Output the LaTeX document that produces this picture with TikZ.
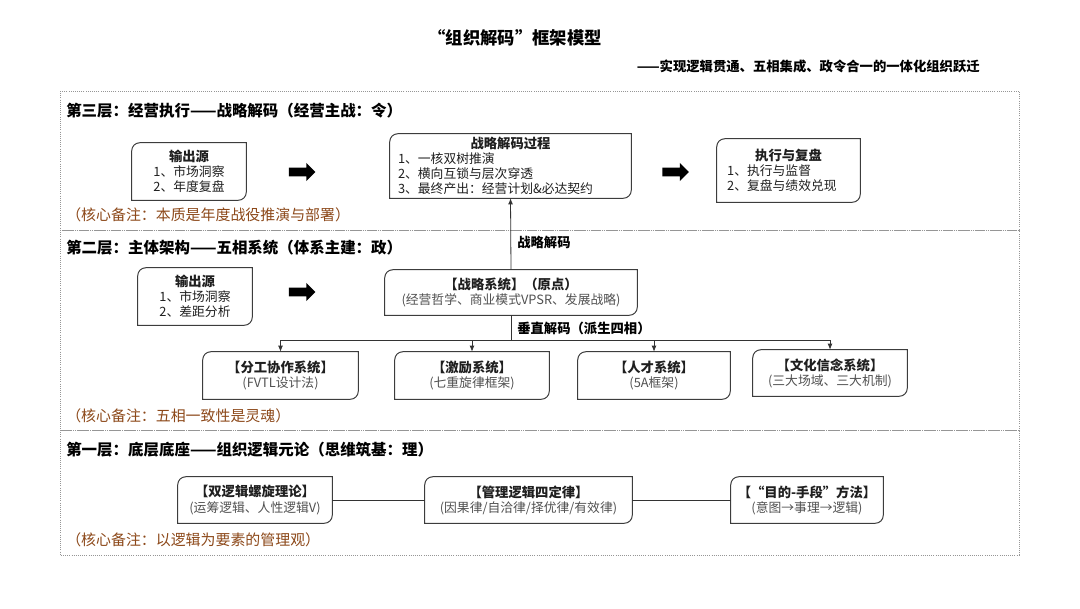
\documentclass[tikz,border=0pt]{standalone}
\usepackage{fontspec}
\setmainfont{Noto Sans CJK SC}
\usetikzlibrary{shapes.arrows,arrows.meta}
\definecolor{notebrown}{RGB}{140,72,25}
\definecolor{framegray}{RGB}{150,150,150}
\definecolor{boxline}{RGB}{60,60,60}
\definecolor{subgray}{RGB}{80,80,80}
\begin{document}
\begin{tikzpicture}[x=0.75pt,y=-0.75pt,
  diag/.style={inner sep=0pt, text=black!88,
    font=\fontsize{9.6}{11.3}\selectfont,
    append after command={\pgfextra{\draw[boxline, line width=0.75pt]
      (\tikzlastnode.south west) -- ([yshift=-6pt]\tikzlastnode.north west)
      arc[start angle=180,end angle=90,radius=6pt] -- (\tikzlastnode.north east)
      -- ([yshift=6pt]\tikzlastnode.south east)
      arc[start angle=0,end angle=-90,radius=6pt] -- cycle;}}},
  bigarrow/.style={single arrow, fill=black, draw=none, inner xsep=0pt, inner ysep=3pt,
    single arrow head extend=3.6pt, single arrow head indent=0pt, minimum height=20pt},
  layerframe/.style={draw=framegray, densely dotted, line width=0.6pt},
  heading/.style={anchor=west, inner sep=0pt, font=\bfseries\fontsize{11.6}{13}\selectfont},
  note/.style={anchor=west, inner sep=0pt, text=notebrown, font=\fontsize{11.2}{12}\selectfont},
  conn/.style={draw=black!80, line width=0.6pt},
  tip/.style={-{Latex[length=4.5pt,width=3.6pt]}},
  lab/.style={anchor=west, inner sep=0pt, font=\bfseries\fontsize{10}{11}\selectfont},
]
\useasboundingbox (0,0) rectangle (1080,608);

% title
\node[inner sep=0pt, font=\bfseries\fontsize{13}{15}\selectfont] (title) at (515,38) {“组织解码”框架模型};
\node[anchor=east, inner sep=0pt, font=\bfseries\fontsize{10}{12}\selectfont] (subtitle) at (980,66) {——实现逻辑贯通、五相集成、政令合一的一体化组织跃迁};

% layer frames
\draw[layerframe] (60,91) rectangle (1019,230);
\draw[layerframe] (60,230) rectangle (1019,430);
\draw[layerframe] (60,430) rectangle (1019,555);

% ===== Layer 3 =====
\node[heading] (h3) at (66,111) {第三层：经营执行——战略解码（经营主战：令）};
\node[diag, minimum width=85.5pt, minimum height=42.75pt, align=center] (src3) at (189,171.5)
  {{\bfseries\fontsize{10}{12}\selectfont 输出源}\\1、市场洞察\\2、年度复盘};
\node[bigarrow] (ar31) at (300,172) {};
\node[diag, minimum width=180.75pt, minimum height=48pt, text width=168.75pt, align=left] (proc) at (510.5,166)
  {\hfill{\bfseries\fontsize{10}{12}\selectfont 战略解码过程}\hfill\null\\1、一核双树推演\\2、横向互锁与层次穿透\\3、最终产出：经营计划\&必达契约};
\node[bigarrow] (ar32) at (673.5,172) {};
\node[diag, minimum width=107.25pt, minimum height=47.25pt, text width=92pt, align=left] (exec) at (788.5,170.5)
  {\hfill{\bfseries\fontsize{10}{12}\selectfont 执行与复盘}\hfill\null\\1、执行与监督\\2、复盘与绩效兑现};
\node[note] (n3) at (66,215) {（核心备注：本质是年度战役推演与部署）};

% ===== Layer 2 =====
\node[heading] (h2) at (66,248) {第二层：主体架构——五相系统（体系主建：政）};
\node[diag, minimum width=85.5pt, minimum height=42.75pt, align=center] (src2) at (195,296.5)
  {{\bfseries\fontsize{10}{12}\selectfont 输出源}\\1、市场洞察\\2、差距分析};
\node[bigarrow] (ar21) at (300,292) {};
\node[diag, minimum width=189pt, minimum height=33.75pt, align=center] (sys) at (511,292.5)
  {{\bfseries\fontsize{10}{12}\selectfont 【战略系统】（原点）}\\{\color{subgray}(经营哲学、商业模式VPSR、发展战略)}};

\node[diag, minimum width=116.25pt, minimum height=35.25pt, align=center] (b1) at (280.5,375.5)
  {{\bfseries\fontsize{10}{12}\selectfont 【分工协作系统】}\\{\color{subgray}(FVTL设计法)}};
\node[diag, minimum width=115.5pt, minimum height=35.25pt, align=center] (b2) at (472,375.5)
  {{\bfseries\fontsize{10}{12}\selectfont 【激励系统】}\\{\color{subgray}(七重旋律框架)}};
\node[diag, minimum width=114pt, minimum height=35.25pt, align=center] (b3) at (654,375.5)
  {{\bfseries\fontsize{10}{12}\selectfont 【人才系统】}\\{\color{subgray}(5A框架)}};
\node[diag, minimum width=115.5pt, minimum height=34.5pt, align=center] (b4) at (830,373)
  {{\bfseries\fontsize{10}{12}\selectfont 【文化信念系统】}\\{\color{subgray}(三大场域、三大机制)}};
\node[note] (n2) at (66,416) {（核心备注：五相一致性是灵魂）};

% connectors layer 2 -> 3
\draw[conn, tip] (sys.north) -- (proc.south);
\node[lab] (l32) at (517,242) {战略解码};
\coordinate (bus) at (511,340);
\draw[conn] (sys.south) -- (bus);
\draw[conn, tip] (bus) -| (b1.north);
\draw[conn, tip] (bus) -| (b2.north);
\draw[conn, tip] (bus) -| (b3.north);
\draw[conn, tip] (bus) -| (b4.north);
\node[lab] (lvert) at (517,328) {垂直解码（派生四相）};

% ===== Layer 1 =====
\node[heading] (h1) at (66,450) {第一层：底层底座——组织逻辑元论（思维筑基：理）};
\node[diag, minimum width=115.5pt, minimum height=34.5pt, align=center] (c1) at (255,500)
  {{\bfseries\fontsize{10}{12}\selectfont 【双逻辑螺旋理论】}\\{\color{subgray}(运筹逻辑、人性逻辑V)}};
\node[diag, minimum width=155.25pt, minimum height=34.5pt, align=center] (c2) at (528.5,500)
  {{\bfseries\fontsize{10}{12}\selectfont 【管理逻辑四定律】}\\{\color{subgray}(因果律/自洽律/择优律/有效律)}};
\node[diag, minimum width=114pt, minimum height=34.5pt, align=center] (c3) at (807,500)
  {{\bfseries\fontsize{10}{12}\selectfont 【“目的-手段”方法】}\\{\color{subgray}(意图→事理→逻辑)}};
\draw[conn] (c1.east) -- (c2.west);
\draw[conn] (c2.east) -- (c3.west);
\node[note] (n1) at (66,540) {（核心备注：以逻辑为要素的管理观）};
\end{tikzpicture}
\end{document}
